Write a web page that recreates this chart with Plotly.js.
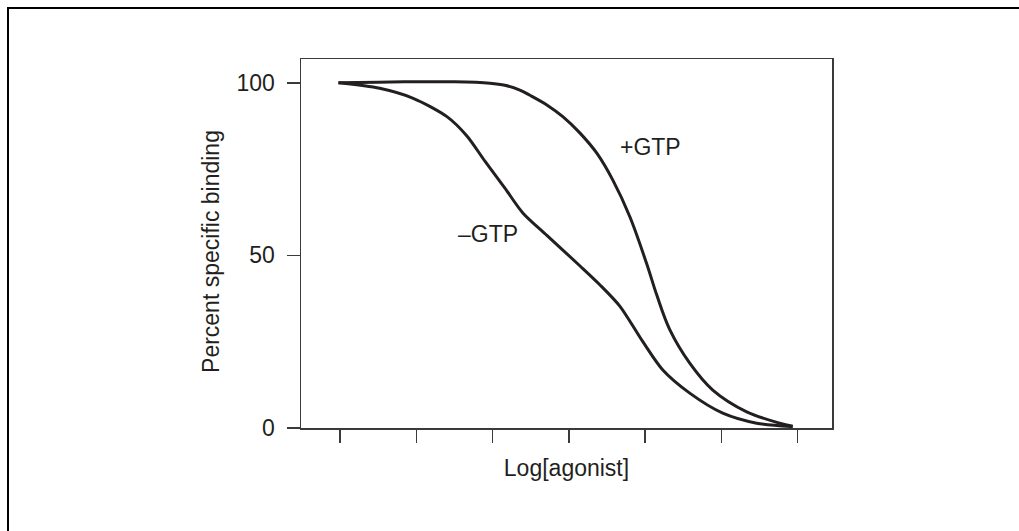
<!DOCTYPE html>
<html>
<head>
<meta charset="utf-8">
<script src="https://cdn.plot.ly/plotly-3.0.1.min.js"></script>
<style>
  html, body { margin: 0; padding: 0; background: #fff; overflow: hidden; }
  #frame { position: absolute; left: 7px; top: 7px; width: 1012px; height: 524px;
           border-top: 2px solid #000; border-left: 2px solid #000; pointer-events: none; z-index: 5; box-sizing: border-box; }
  #chart { position: absolute; left: 0; top: 0; width: 1019px; height: 531px; }
</style>
</head>
<body>
<div id="chart"></div>
<div id="frame"></div>
<script>
// Log[agonist] positions (arbitrary units; ticks are unlabeled)
const xTicks = [1, 2, 3, 4, 5, 6, 7];
const yTicks = [0, 50, 100];
const yTickLabels = ["0", "50", "100"];

// +GTP curve
const plusX = [0.98, 1.5, 2.0, 2.5, 2.965, 3.162, 3.358, 3.49, 3.712, 3.921, 4.144, 4.367, 4.577, 4.80, 5.022, 5.153, 5.323, 5.585, 5.887, 6.332, 6.764, 6.935];
const plusY = [100, 100.2, 100.3, 100.3, 99.9, 99.3, 97.9, 96.4, 93.6, 90.2, 85.5, 79.6, 71.8, 61.2, 47.5, 38.5, 28.5, 18.8, 11.0, 4.7, 1.4, 0.5];

// −GTP curve
const minusX = [0.98, 1.52, 1.96, 2.402, 2.664, 2.90, 3.162, 3.397, 3.712, 4.144, 4.406, 4.668, 4.970, 5.232, 5.585, 6.018, 6.463, 6.935];
const minusY = [100, 98.4, 95.5, 90.2, 84.6, 77.3, 69.5, 62.3, 55.8, 47.0, 41.5, 35.3, 25.0, 16.8, 10.1, 4.3, 1.4, 0.4];

const curveLabels = [
  { text: "+GTP", x: 5.074, y: 81.3 },
  { text: "\u2013GTP", x: 2.94, y: 56.3 }
];

const textColor = "#231f20";
const axisColor = "#3a3a3a";
const fontFamily = "'Liberation Sans', Arial, Helvetica, sans-serif";

const traces = [
  { x: plusX, y: plusY, mode: "lines", line: { color: textColor, width: 3, shape: "spline", smoothing: 1 }, hoverinfo: "skip" },
  { x: minusX, y: minusY, mode: "lines", line: { color: textColor, width: 3, shape: "spline", smoothing: 0.8 }, hoverinfo: "skip" }
];

const annotations = curveLabels.map(l => ({
  text: l.text, x: l.x, y: l.y, xref: "x", yref: "y", showarrow: false,
  font: { family: fontFamily, size: 23, color: textColor }, xanchor: "center", yanchor: "middle"
}));
annotations.push({
  text: "Percent specific binding", textangle: -90, xref: "paper", yref: "y",
  x: 0, y: 51, xshift: -90, showarrow: false, xanchor: "center", yanchor: "middle",
  font: { family: fontFamily, size: 23, color: textColor }
});

const layout = {
  width: 1019, height: 531,
  margin: { l: 301, r: 187, t: 59, b: 103, pad: 0 },
  paper_bgcolor: "#fff", plot_bgcolor: "#fff",
  showlegend: false,
  font: { family: fontFamily, size: 23, color: textColor },
  xaxis: {
    range: [0.489, 7.45], tickvals: xTicks, ticktext: xTicks.map(() => ""),
    ticks: "outside", ticklen: 13, tickwidth: 1.5, tickcolor: axisColor,
    showline: true, linecolor: axisColor, linewidth: 1.5, mirror: true,
    showgrid: false, zeroline: false,
    title: { text: "Log[agonist]", font: { family: fontFamily, size: 23, color: textColor }, standoff: 14 }
  },
  yaxis: {
    range: [0, 106.9], tickvals: yTicks, ticktext: yTickLabels,
    ticks: "outside", ticklen: 13, tickwidth: 1.5, tickcolor: axisColor,
    ticklabelstandoff: 7,
    tickfont: { family: fontFamily, size: 23, color: textColor },
    showline: true, linecolor: axisColor, linewidth: 1.5, mirror: true,
    showgrid: false, zeroline: false
  },
  annotations: annotations
};

Plotly.newPlot("chart", traces, layout, { staticPlot: true, displayModeBar: false });
</script>
</body>
</html>
